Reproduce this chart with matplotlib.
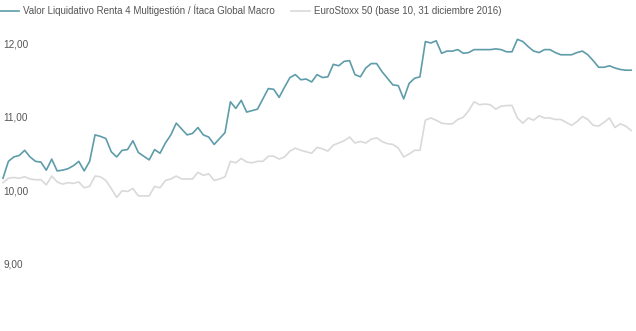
import numpy as np
import matplotlib
matplotlib.use("Agg")
import matplotlib.pyplot as plt

# Valor liquidativo del fondo (azul) y EuroStoxx 50 rebased a 10 (gris)
fondo = [10.18, 10.41, 10.47, 10.49, 10.56, 10.47, 10.41, 10.40, 10.29, 10.44,
         10.28, 10.29, 10.31, 10.35, 10.41, 10.28, 10.41, 10.77, 10.75, 10.72,
         10.54, 10.47, 10.56, 10.57, 10.69, 10.53, 10.48, 10.43, 10.57, 10.52,
         10.66, 10.77, 10.93, 10.85, 10.77, 10.79, 10.87, 10.77, 10.74, 10.64,
         10.72, 10.80, 11.22, 11.13, 11.24, 11.08, 11.10, 11.12, 11.26, 11.40,
         11.39, 11.28, 11.42, 11.55, 11.59, 11.52, 11.53, 11.49, 11.59, 11.55,
         11.56, 11.73, 11.71, 11.77, 11.78, 11.59, 11.56, 11.68, 11.74, 11.74,
         11.63, 11.54, 11.45, 11.44, 11.26, 11.47, 11.54, 11.56, 12.04, 12.02,
         12.05, 11.88, 11.91, 11.91, 11.93, 11.88, 11.89, 11.93, 11.93, 11.93,
         11.93, 11.94, 11.93, 11.90, 11.90, 12.07, 12.04, 11.97, 11.91, 11.89,
         11.93, 11.93, 11.89, 11.86, 11.86, 11.86, 11.89, 11.91, 11.86, 11.78,
         11.69, 11.69, 11.71, 11.68, 11.66, 11.65, 11.65]

eurostoxx = [10.12, 10.18, 10.19, 10.18, 10.20, 10.17, 10.16, 10.16, 10.09, 10.21,
             10.13, 10.10, 10.12, 10.11, 10.13, 10.05, 10.07, 10.21, 10.20, 10.15,
             10.04, 9.92, 10.01, 10.00, 10.04, 9.94, 9.94, 9.94, 10.07, 10.05,
             10.15, 10.17, 10.21, 10.17, 10.17, 10.17, 10.26, 10.22, 10.24, 10.15,
             10.17, 10.20, 10.41, 10.39, 10.45, 10.40, 10.39, 10.41, 10.41, 10.48,
             10.48, 10.44, 10.47, 10.55, 10.59, 10.56, 10.54, 10.52, 10.60, 10.58,
             10.55, 10.63, 10.66, 10.69, 10.74, 10.66, 10.68, 10.66, 10.71, 10.73,
             10.68, 10.65, 10.64, 10.59, 10.47, 10.51, 10.56, 10.56, 10.97, 11.00,
             10.97, 10.93, 10.92, 10.92, 10.98, 11.01, 11.10, 11.22, 11.18, 11.19,
             11.18, 11.12, 11.16, 11.17, 11.17, 11.00, 10.93, 11.00, 10.97, 11.03,
             11.00, 11.00, 10.98, 10.98, 10.94, 10.90, 10.95, 11.02, 10.98, 10.90,
             10.89, 10.94, 11.00, 10.87, 10.92, 10.89, 10.83]

yticks = [9, 10, 11, 12]
ytick_labels = ["9,00", "10,00", "11,00", "12,00"]

serie1 = "Valor Liquidativo Renta 4 Multigestión / Ítaca Global Macro"
serie2 = "EuroStoxx 50 (base 10, 31 diciembre 2016)"

plt.rcParams['font.family'] = ['Liberation Sans', 'DejaVu Sans']

fig = plt.figure(figsize=(6.36, 3.31), dpi=100)
ax = fig.add_axes([0, 0, 1, 1])

x = np.arange(len(fondo))
ax.plot(x, eurostoxx, color="#d9d9d9", lw=1.2, label=serie2, zorder=2)
ax.plot(x, fondo, color="#5e9ca9", lw=1.2, label=serie1, zorder=3)

ax.set_xlim(-0.55, 116.9)
ax.set_ylim(8.102, 12.605)
ax.axis("off")

# etiquetas del eje y dentro del area
for v, lab in zip(yticks, ytick_labels):
    ax.text(0.005, v, lab, transform=ax.get_yaxis_transform(),
            ha="left", va="center", fontsize=7.2, color="#555555")

h, l = ax.get_legend_handles_labels()
leg = fig.legend(h[::-1], l[::-1], loc="upper left", bbox_to_anchor=(0.0, 0.985),
                 ncol=2, frameon=False, fontsize=7.0, handlelength=1.95,
                 handletextpad=0.38, columnspacing=1.75, borderaxespad=0.0,
                 borderpad=0.0)
for t in leg.get_texts():
    t.set_color("#555555")

fig.savefig("out.png", dpi=100, facecolor="white")
